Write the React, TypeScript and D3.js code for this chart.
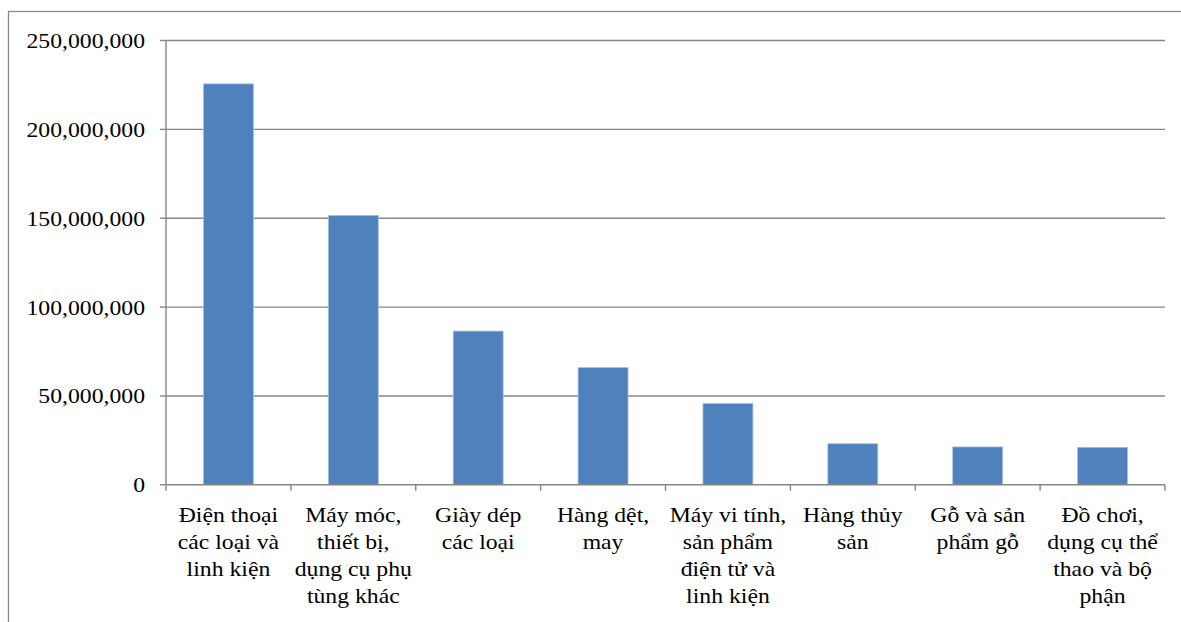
import React from "react";
import * as d3 from "d3";

const categories = [
  "Điện thoại các loại và linh kiện",
  "Máy móc, thiết bị, dụng cụ phụ tùng khác",
  "Giày dép các loại",
  "Hàng dệt, may",
  "Máy vi tính, sản phẩm điện tử và linh kiện",
  "Hàng thủy sản",
  "Gỗ và sản phẩm gỗ",
  "Đồ chơi, dụng cụ thể thao và bộ phận",
];

const categoryLines = [
  ["Điện thoại", "các loại và", "linh kiện"],
  ["Máy móc,", "thiết bị,", "dụng cụ phụ", "tùng khác"],
  ["Giày dép", "các loại"],
  ["Hàng dệt,", "may"],
  ["Máy vi tính,", "sản phẩm", "điện tử và", "linh kiện"],
  ["Hàng thủy", "sản"],
  ["Gỗ và sản", "phẩm gỗ"],
  ["Đồ chơi,", "dụng cụ thể", "thao và bộ", "phận"],
];

const values = [225600000, 151600000, 86500000, 66000000, 45700000, 23100000, 21300000, 21100000];

const yTicks = [0, 50000000, 100000000, 150000000, 200000000, 250000000];

const W = 1181;
const H = 622;
const plot = { left: 166, right: 1165, top: 40.5, bottom: 484.8 };
const GRID = "#878787";
const FONT = "'Liberation Serif', 'Times New Roman', serif";
const SX = 1.13;

export default function App() {
  const x = d3
    .scaleBand<string>()
    .domain(categories)
    .range([plot.left, plot.right])
    .paddingInner(0.6)
    .paddingOuter(0.3);
  const step = x.step();
  const y = d3.scaleLinear().domain([0, 250000000]).range([plot.bottom, plot.top]);
  const fmt = d3.format(",");

  return (
    <svg
      width={W}
      height={H}
      style={{ position: "absolute", left: 0, top: 0, background: "#fff" }}
    >
      <rect x={8.5} y={11.5} width={1300} height={700} fill="#fff" stroke="#8a8a8a" strokeWidth={1.3} />
      {yTicks.map((t) => (
        <g key={t}>
          {t > 0 && (
            <line x1={plot.left} x2={plot.right} y1={y(t)} y2={y(t)} stroke={GRID} strokeWidth={1.4} />
          )}
          <line x1={plot.left - 6} x2={plot.left} y1={y(t)} y2={y(t)} stroke={GRID} strokeWidth={1.4} />
          <g transform={`translate(145,${y(t) + 7.5}) scale(${SX},1)`}>
            <text textAnchor="end" fontFamily={FONT} fontSize={21} fill="#000">
              {fmt(t)}
            </text>
          </g>
        </g>
      ))}
      {categories.map((c, i) => (
        <rect
          key={c}
          x={x(c)}
          y={y(values[i])}
          width={x.bandwidth()}
          height={y(0) - y(values[i])}
          fill="#4F81BD"
          stroke="#A9C1E0"
          strokeWidth={0.8}
        />
      ))}
      <line x1={plot.left} x2={plot.left} y1={plot.top} y2={plot.bottom} stroke={GRID} strokeWidth={1.4} />
      <line x1={plot.left} x2={plot.right} y1={plot.bottom} y2={plot.bottom} stroke={GRID} strokeWidth={1.4} />
      {d3.range(categories.length + 1).map((i) => (
        <line
          key={i}
          x1={plot.left + i * step}
          x2={plot.left + i * step}
          y1={plot.bottom}
          y2={plot.bottom + 6}
          stroke={GRID}
          strokeWidth={1.4}
        />
      ))}
      {categories.map((c, i) => {
        const cx = (x(c) as number) + x.bandwidth() / 2;
        return (
          <g key={c} transform={`translate(${cx},0) scale(${SX},1)`}>
            {categoryLines[i].map((ln, j) => (
              <text
                key={j}
                x={0}
                y={522.5 + j * 26.8}
                textAnchor="middle"
                fontFamily={FONT}
                fontSize={21}
                fill="#000"
              >
                {ln}
              </text>
            ))}
          </g>
        );
      })}
    </svg>
  );
}
